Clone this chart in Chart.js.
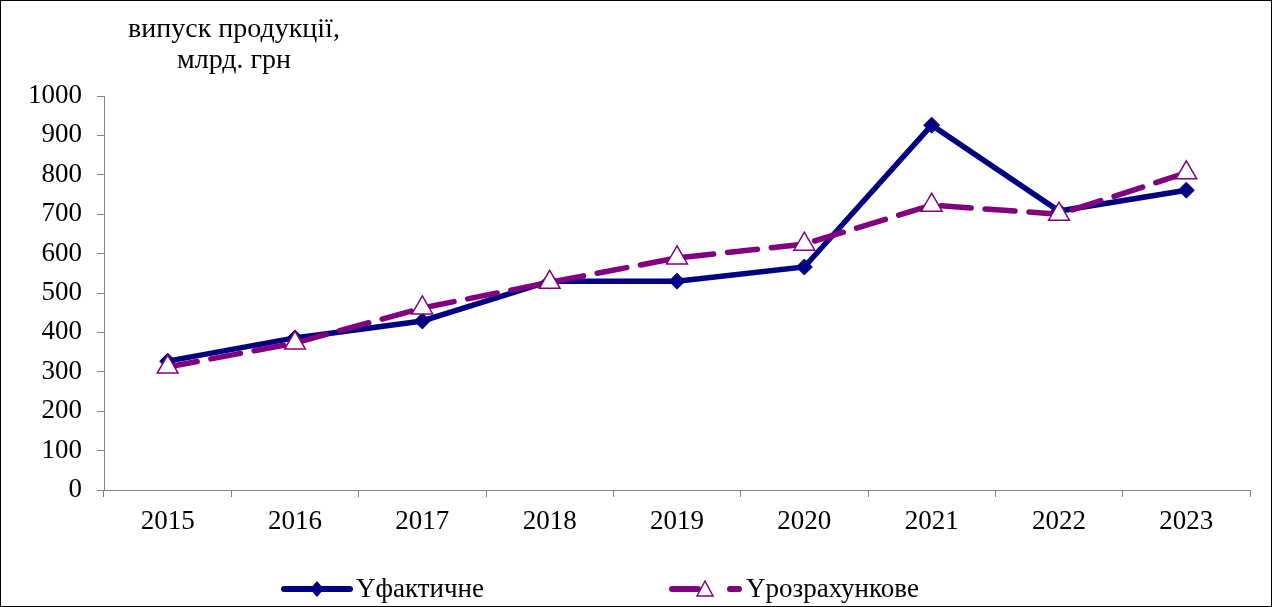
<!DOCTYPE html>
<html lang="uk">
<head>
<meta charset="UTF-8">
<title>Випуск продукції</title>
<script src="https://cdn.jsdelivr.net/npm/chart.js"></script>
<style>
    html, body { margin: 0; padding: 0; background: #fff; }
    #wrap { width: 1272px; height: 607px; position: relative; }
</style>
</head>
<body>
<div id="wrap"><canvas id="chart"></canvas></div>
<script>
// дані
var years = ['2015', '2016', '2017', '2018', '2019', '2020', '2021', '2022', '2023'];
var yFact = [327, 386, 429, 530, 530, 566, 926, 708, 761];
var yCalc = [312, 373, 462, 527, 589, 624, 723, 700, 805];
var seriesNames = ['Yфактичне', 'Yрозрахункове'];
var axisTitle = ['випуск продукції,', 'млрд. грн'];

var FONT = '"Liberation Serif", "Times New Roman", serif';

// рамка, підпис осі та легенда
var extras = {
    id: 'extras',
    afterDraw: function (chart) {
        var c = chart.ctx;
        c.save();
        c.strokeStyle = '#000';
        c.lineWidth = 1;
        c.strokeRect(0.5, 0.5, chart.width - 1, chart.height - 1);

        c.fillStyle = '#000';
        c.font = '28px ' + FONT;
        c.textAlign = 'center';
        c.textBaseline = 'alphabetic';
        c.fillText(axisTitle[0], 234, 37);
        c.fillText(axisTitle[1], 234, 68);

        // легенда
        var ly = 589;
        var d0 = chart.data.datasets[0], d1 = chart.data.datasets[1];
        c.lineCap = 'round';
        c.lineWidth = 6;
        c.strokeStyle = d0.borderColor;
        c.beginPath(); c.moveTo(284, ly); c.lineTo(350, ly); c.stroke();
        c.fillStyle = d0.borderColor;
        c.beginPath(); c.moveTo(317, ly - 8); c.lineTo(324, ly); c.lineTo(317, ly + 8); c.lineTo(310, ly); c.closePath(); c.fill();

        c.strokeStyle = d1.borderColor;
        c.beginPath(); c.moveTo(672, ly); c.lineTo(698, ly); c.stroke();
        c.beginPath(); c.moveTo(730, ly); c.lineTo(739, ly); c.stroke();
        c.lineCap = 'butt';
        c.lineWidth = 1.5;
        c.fillStyle = '#fff';
        c.beginPath(); c.moveTo(705, ly - 8); c.lineTo(713, ly + 7); c.lineTo(697, ly + 7); c.closePath(); c.fill(); c.stroke();

        c.fillStyle = '#000';
        c.font = '27px ' + FONT;
        c.textAlign = 'left';
        c.textBaseline = 'middle';
        c.fillText(seriesNames[0], 356, ly + 1);
        c.fillText(seriesNames[1], 746, ly + 1);
        c.restore();
    }
};

var ctx = document.getElementById('chart').getContext('2d');
var chart = new Chart(ctx, {
    type: 'line',
    data: {
        labels: years,
        datasets: [{
            label: seriesNames[0],
            data: yFact,
            borderColor: '#000080',
            backgroundColor: '#000080',
            borderWidth: 5.5,
            pointStyle: 'rectRot',
            pointRadius: 8,
            pointBorderWidth: 1,
            tension: 0,
            order: 2
        }, {
            label: seriesNames[1],
            data: yCalc,
            borderColor: '#800080',
            backgroundColor: '#ffffff',
            borderWidth: 5.5,
            borderDash: [30, 14],
            borderCapStyle: 'round',
            pointStyle: 'triangle',
            pointRadius: 12,
            pointBorderWidth: 1.5,
            tension: 0,
            order: 1
        }]
    },
    options: {
        responsive: true,
        maintainAspectRatio: false,
        animation: false,
        layout: { padding: { top: 96, right: 22, left: 0, bottom: 0 } },
        plugins: {
            legend: { display: false },
            tooltip: { enabled: false }
        },
        scales: {
            x: {
                offset: true,
                grid: { offset: true, drawOnChartArea: false, drawTicks: true, tickLength: 7, color: '#808080' },
                border: { color: '#808080', width: 1 },
                ticks: { color: '#000', font: { family: FONT, size: 27 }, padding: 9, maxRotation: 0 },
                afterFit: function (s) { s.height = 117; }
            },
            y: {
                min: 0,
                max: 1000,
                grid: { drawOnChartArea: false, drawTicks: true, tickLength: 7, color: '#808080' },
                border: { color: '#808080', width: 1 },
                ticks: {
                    stepSize: 100, color: '#000', font: { family: FONT, size: 27 }, padding: 15,
                    callback: function (v) { return String(v); }
                },
                afterFit: function (s) { s.width = 104; }
            }
        }
    },
    plugins: [extras]
});
</script>
</body>
</html>
